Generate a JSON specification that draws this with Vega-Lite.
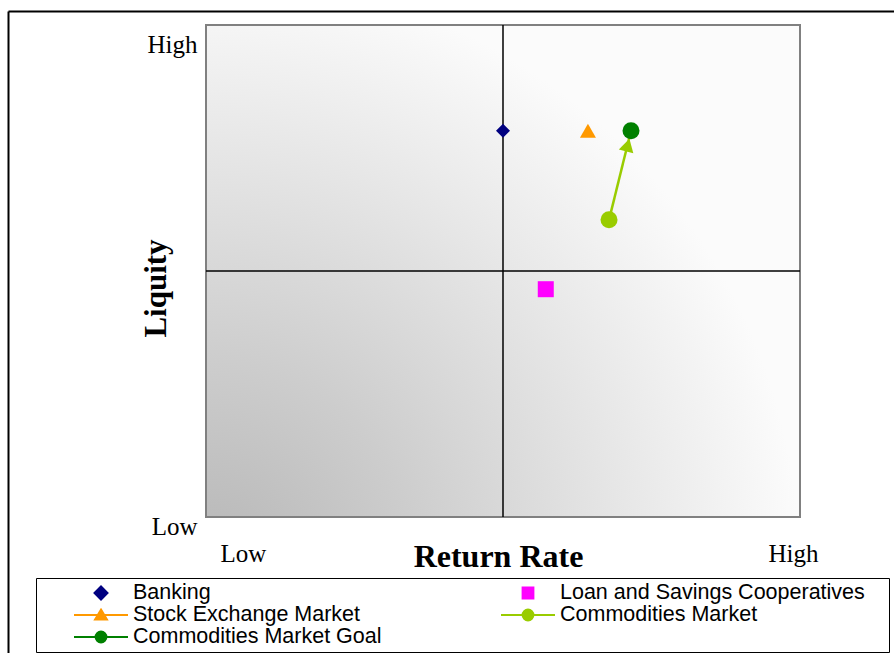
{
  "$schema": "https://vega.github.io/schema/vega-lite/v6.json",
  "width": 886,
  "height": 642,
  "autosize": {"type": "none"},
  "padding": {"left": 8, "top": 11, "right": 0, "bottom": 0},
  "background": "white",
  "config": {
    "view": {"stroke": null},
    "font": "Liberation Serif",
    "axis": {"labelColor": "black", "titleColor": "black"}
  },
  "datasets": {
    "assets": [
      {"series": "Banking", "return_rate": 5.0, "liquidity": 7.85},
      {"series": "Loan and Savings Cooperatives", "return_rate": 5.72, "liquidity": 4.63},
      {"series": "Stock Exchange Market", "return_rate": 6.43, "liquidity": 7.85},
      {"series": "Commodities Market", "return_rate": 6.785, "liquidity": 6.04},
      {"series": "Commodities Market Goal", "return_rate": 7.155, "liquidity": 7.85}
    ],
    "arrowhead": [
      {"return_rate": 7.1, "liquidity": 7.56}
    ]
  },
  "layer": [
    {
      "data": {"values": [{}]},
      "mark": {
        "type": "rect",
        "stroke": "#808080",
        "strokeWidth": 2,
        "fill": {
          "gradient": "radial",
          "x1": 0, "y1": 1, "r1": 0,
          "x2": 0, "y2": 1, "r2": 1.0,
          "stops": [
            {"offset": 0, "color": "#b6b6b6"},
            {"offset": 0.35, "color": "#cdcdcd"},
            {"offset": 0.7, "color": "#e6e6e6"},
            {"offset": 1, "color": "#fbfbfb"}
          ]
        }
      },
      "encoding": {
        "x": {
          "datum": 0,
          "type": "quantitative",
          "scale": {"domain": [-3.3333, 11.5825], "nice": false, "zero": false},
          "axis": {
            "orient": "top",
            "values": [0, 10],
            "labelExpr": "datum.value == 0 ? 'Low' : 'High'",
            "domain": true,
            "domainColor": "black",
            "domainWidth": 2,
            "ticks": false,
            "grid": false,
            "labelPadding": -550,
            "labelBaseline": "alphabetic",
            "labelAlign": "center",
            "labelOffset": {"condition": {"test": "datum.value == 0", "value": 37}, "value": -7},
            "labelFont": "Liberation Serif",
            "labelFontSize": 25,
            "labelOverlap": false,
            "labelBound": false,
            "labelFlush": false,
            "title": "Return Rate",
            "titleFont": "Liberation Serif",
            "titleFontSize": 32,
            "titleFontWeight": "bold",
            "titleX": 490,
            "titleY": 555,
            "titleBaseline": "alphabetic",
            "titleAlign": "center",
            "titleAngle": 0
          }
        },
        "x2": {"datum": 10},
        "y": {
          "datum": 0,
          "type": "quantitative",
          "scale": {"domain": [-2.7642, 10.2846], "nice": false, "zero": false},
          "axis": {
            "orient": "left",
            "values": [0, 10],
            "labelExpr": "datum.value == 0 ? 'Low' : 'High'",
            "domain": true,
            "domainColor": "black",
            "domainWidth": 2,
            "ticks": false,
            "grid": false,
            "labelPadding": -189,
            "labelAlign": "right",
            "labelBaseline": "alphabetic",
            "labelOffset": {"condition": {"test": "datum.value == 10", "value": 27}, "value": 17},
            "labelFont": "Liberation Serif",
            "labelFontSize": 25,
            "labelOverlap": false,
            "labelBound": false,
            "labelFlush": false,
            "title": "Liquity",
            "titleFont": "Liberation Serif",
            "titleFontSize": 31,
            "titleFontWeight": "bold",
            "titleAngle": 270,
            "titleX": 157,
            "titleY": 277,
            "titleBaseline": "alphabetic",
            "titleAlign": "center"
          }
        },
        "y2": {"datum": 10}
      }
    },
    {
      "data": {"values": [{}]},
      "mark": {"type": "rule", "color": "black", "strokeWidth": 1.5},
      "encoding": {
        "x": {"datum": 5, "type": "quantitative"},
        "y": {"datum": 0, "type": "quantitative"},
        "y2": {"datum": 10}
      }
    },
    {
      "data": {"values": [{}]},
      "mark": {"type": "rule", "color": "black", "strokeWidth": 1.5},
      "encoding": {
        "y": {"datum": 5, "type": "quantitative"},
        "x": {"datum": 0, "type": "quantitative"},
        "x2": {"datum": 10}
      }
    },
    {
      "data": {"name": "assets"},
      "transform": [{"filter": "datum.series === 'Commodities Market' || datum.series === 'Commodities Market Goal'"}],
      "mark": {"type": "line", "color": "#99CC00", "strokeWidth": 2.5},
      "encoding": {
        "x": {"field": "return_rate", "type": "quantitative"},
        "y": {"field": "liquidity", "type": "quantitative"}
      }
    },
    {
      "data": {"name": "arrowhead"},
      "mark": {"type": "point", "shape": "triangle-up", "filled": true, "size": 225, "angle": 15, "color": "#99CC00", "opacity": 1},
      "encoding": {
        "x": {"field": "return_rate", "type": "quantitative"},
        "y": {"field": "liquidity", "type": "quantitative"}
      }
    },
    {
      "data": {"name": "assets"},
      "transform": [{"filter": "datum.series === 'Banking'"}],
      "mark": {"type": "point", "shape": "diamond", "filled": true, "size": 196, "opacity": 1},
      "encoding": {
        "x": {"field": "return_rate", "type": "quantitative"},
        "y": {"field": "liquidity", "type": "quantitative"},
        "color": {
          "field": "series",
          "type": "nominal",
          "scale": {
            "domain": ["Banking", "Stock Exchange Market", "Commodities Market Goal", "Loan and Savings Cooperatives", "Commodities Market"],
            "range": ["#000080", "#FF9900", "#008000", "#FF00FF", "#99CC00"]
          }
        }
      }
    },
    {
      "data": {"name": "assets"},
      "transform": [{"filter": "datum.series === 'Loan and Savings Cooperatives'"}],
      "mark": {"type": "point", "shape": "square", "filled": true, "size": 256, "opacity": 1},
      "encoding": {
        "x": {"field": "return_rate", "type": "quantitative"},
        "y": {"field": "liquidity", "type": "quantitative"},
        "color": {"field": "series", "type": "nominal"}
      }
    },
    {
      "data": {"name": "assets"},
      "transform": [{"filter": "datum.series === 'Stock Exchange Market'"}],
      "mark": {"type": "point", "shape": "triangle-up", "filled": true, "size": 256, "opacity": 1},
      "encoding": {
        "x": {"field": "return_rate", "type": "quantitative"},
        "y": {"field": "liquidity", "type": "quantitative"},
        "color": {"field": "series", "type": "nominal"}
      }
    },
    {
      "data": {"name": "assets"},
      "transform": [{"filter": "datum.series === 'Commodities Market' || datum.series === 'Commodities Market Goal'"}],
      "mark": {"type": "point", "shape": "circle", "filled": true, "size": 289, "opacity": 1},
      "encoding": {
        "x": {"field": "return_rate", "type": "quantitative"},
        "y": {"field": "liquidity", "type": "quantitative"},
        "color": {"field": "series", "type": "nominal"}
      }
    },
    {
      "data": {"name": "assets"},
      "transform": [{"filter": "false"}],
      "mark": {"type": "point", "filled": true, "opacity": 1, "strokeWidth": 2},
      "encoding": {
        "x": {"field": "return_rate", "type": "quantitative"},
        "y": {"field": "liquidity", "type": "quantitative"},
        "color": {
          "field": "series",
          "type": "nominal",
          "legend": {
            "orient": "none",
            "legendX": 28,
            "legendY": 567,
            "columns": 2,
            "title": " ",
            "titleOrient": "right",
            "titleFontSize": 10,
            "titlePadding": 20,
            "strokeColor": "black",
            "padding": 4,
            "gridAlign": "each",
            "columnPadding": 85,
            "rowPadding": 0,
            "clipHeight": 22,
            "symbolSize": 2916,
            "symbolStrokeWidth": 2,
            "symbolOffset": 33,
            "labelOffset": 4,
            "labelFont": "Liberation Sans",
            "labelFontSize": 21.5,
            "labelColor": "black",
            "labelLimit": 500,
            "encode": {"legend": {"update": {"strokeWidth": {"value": 2}}}}
          }
        },
        "stroke": {
          "field": "series",
          "type": "nominal",
          "scale": {
            "domain": ["Banking", "Stock Exchange Market", "Commodities Market Goal", "Loan and Savings Cooperatives", "Commodities Market"],
            "range": ["#000080", "#FF9900", "#008000", "#FF00FF", "#99CC00"]
          }
        },
        "shape": {
          "field": "series",
          "type": "nominal",
          "scale": {
            "domain": ["Banking", "Stock Exchange Market", "Commodities Market Goal", "Loan and Savings Cooperatives", "Commodities Market"],
            "range": [
              "M-0.24,0L0,-0.24L0.24,0L0,0.24Z",
              "M-1,0H1M0,-0.2L0.22,0.17L-0.22,0.17Z",
              "M-1,0H1M-0.2,0A0.2,0.2,0,1,1,0.2,0A0.2,0.2,0,1,1,-0.2,0Z",
              "M-0.2,-0.2H0.2V0.2H-0.2Z",
              "M-1,0H1M-0.2,0A0.2,0.2,0,1,1,0.2,0A0.2,0.2,0,1,1,-0.2,0Z"
            ]
          }
        }
      }
    }
  ]
}
